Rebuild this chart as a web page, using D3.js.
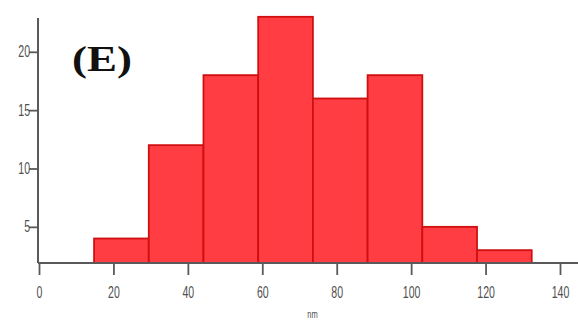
<!DOCTYPE html>
<html>
<head>
<meta charset="utf-8">
<script src="https://cdn.jsdelivr.net/npm/d3@7"></script>
<style>
  html, body { margin: 0; padding: 0; background: #fff; }
  svg { display: block; }
</style>
</head>
<body>
<svg id="chart" width="578" height="324"></svg>
<script>
// Histogram of particle sizes (nm)
const binEdges = [14.8, 29.5, 44.2, 58.9, 73.6, 88.3, 103.0, 117.7, 132.4];
const counts = [4, 12, 18, 23, 16, 18, 5, 3];
const xTicks = [0, 20, 40, 60, 80, 100, 120, 140];
const yTicks = [5, 10, 15, 20];
const panelLabel = "(E)";
const xTitle = "nm";

const svg = d3.select("#chart");
const W = 578;

const x = d3.scaleLinear().domain([0, 140]).range([39, 560]);
const y = d3.scaleLinear().domain([1.9, 23]).range([263, 16.8]);

const bins = counts.map((c, i) => ({ x0: binEdges[i], x1: binEdges[i + 1], n: c }));

// bars
svg.append("g")
  .selectAll("rect")
  .data(bins)
  .join("rect")
  .attr("x", d => x(d.x0))
  .attr("y", d => y(d.n))
  .attr("width", d => x(d.x1) - x(d.x0))
  .attr("height", d => y(y.domain()[0]) - y(d.n))
  .attr("fill", "#ff3d42")
  .attr("stroke", "#d01010")
  .attr("stroke-width", 1.8);

const axisColor = "#5a5a5a";
const textColor = "#505050";
const tickFont = "'Liberation Sans', Arial, sans-serif";

// x axis
const gx = svg.append("g")
  .attr("transform", `translate(0,${y(y.domain()[0])})`)
  .call(d3.axisBottom(x).tickValues(xTicks).tickSize(12).tickPadding(12).tickSizeOuter(0));
gx.select(".domain").remove();
gx.append("line")
  .attr("x1", x(0) - 1).attr("x2", W)
  .attr("y1", 0).attr("y2", 0)
  .attr("stroke", axisColor).attr("stroke-width", 2);
gx.selectAll(".tick line").attr("stroke", axisColor).attr("stroke-width", 1.8);
gx.selectAll(".tick text")
  .attr("fill", textColor)
  .style("font-family", tickFont)
  .style("font-size", "16px")
  .attr("transform", "scale(0.66,1)");

// y axis
const gy = svg.append("g")
  .attr("transform", `translate(${x(0) - 1},0)`)
  .call(d3.axisLeft(y).tickValues(yTicks).tickSize(9).tickPadding(3).tickSizeOuter(0));
gy.select(".domain").remove();
gy.append("line")
  .attr("x1", 0).attr("x2", 0)
  .attr("y1", y(y.domain()[0])).attr("y2", y(22.9))
  .attr("stroke", axisColor).attr("stroke-width", 2);
gy.selectAll(".tick line").attr("stroke", axisColor).attr("stroke-width", 1.8);
gy.selectAll(".tick text")
  .attr("fill", textColor)
  .style("font-family", tickFont)
  .style("font-size", "16px")
  .attr("transform", "scale(0.66,1)");

// axis title, centred a little right of the plot middle
svg.append("text")
  .attr("transform", `translate(${(x(0) + x(140)) / 2 + 13},318) scale(0.75,1)`)
  .attr("text-anchor", "middle")
  .attr("fill", textColor)
  .style("font-family", tickFont)
  .style("font-size", "10px")
  .text(xTitle);

// panel label
svg.append("text")
  .attr("transform", "translate(72,71) scale(1.25,1)")
  .attr("fill", "#111")
  .style("font-family", "'Liberation Serif', 'Times New Roman', serif")
  .style("font-weight", "bold")
  .style("font-size", "36px")
  .text(panelLabel);
</script>
</body>
</html>
